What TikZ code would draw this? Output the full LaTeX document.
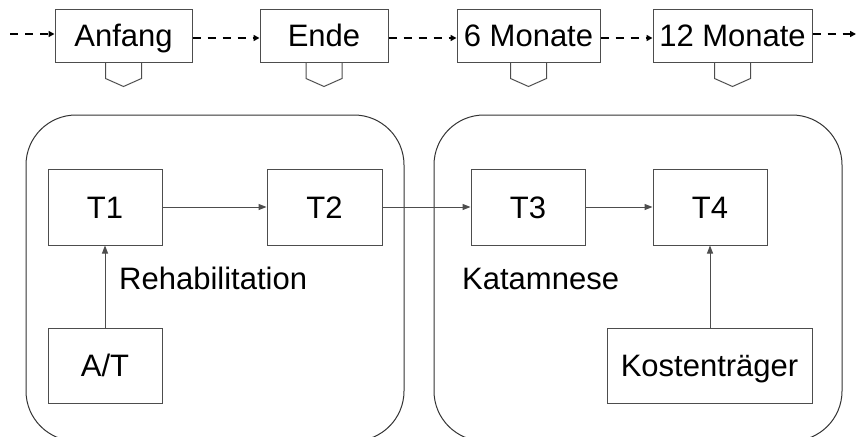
\documentclass[tikz,border=0pt]{standalone}
\usepackage{fontspec}
\setmainfont{Liberation Sans}
\usetikzlibrary{arrows.meta}
\definecolor{linegray}{HTML}{4D4D4D}
\definecolor{framegray}{HTML}{333333}

\tikzset{
    box/.style={draw=linegray, line width=1pt, minimum width=114pt, minimum height=76pt,
        inner sep=0pt, text height=22pt, text depth=0pt},
    flag/.style={box, minimum height=52pt},
    flow/.style={draw=linegray, line width=1pt, -{Triangle[length=8pt,width=6pt]}},
    timeline/.style={draw=black, line width=2.4pt, dash pattern=on 8pt off 7pt,
        -{Triangle[length=6pt,width=6pt]}},
    phase/.style={draw=framegray, line width=1pt, rounded corners=50pt}
}

\begin{document}
\begin{tikzpicture}[x=1pt, y=-1pt, font=\fontsize{31pt}{35pt}\selectfont]
    \useasboundingbox (0,0) rectangle (858,436);
    \clip (0,0) rectangle (858,436);

    % Phases in the background
    \draw[phase] (26,115) rectangle (404,441);
    \draw[phase] (434,115) rectangle (842,441);

    % Time line
    \node[flag, minimum width=137pt] (anfang) at (123.5,36) {Anfang};
    \node[flag, minimum width=128pt] (ende) at (324,36) {Ende};
    \node[flag, minimum width=143pt] (sechs) at (528.5,36) {6 Monate};
    \node[flag, minimum width=159pt] (zwoelf) at (732.5,36) {12 Monate};

    % Tabs below the time points
    \foreach \n in {anfang,ende,sechs,zwoelf} {
        \draw[linegray, line width=1pt] (\n.south) ++(-18,0) -- ++(0,16) -- ++(18,8) -- ++(18,-8) -- ++(0,-16);
    }

    \coordinate (tstart) at (10,34);
    \coordinate (tend) at (856,34);
    \draw[timeline] (tstart) -- (tstart -| anfang.west);
    \draw[timeline] ([yshift=-2pt]anfang.east) -- ([yshift=-2pt]ende.west);
    \draw[timeline] ([yshift=-2pt]ende.east) -- ([yshift=-2pt]sechs.west);
    \draw[timeline] ([yshift=-2pt]sechs.east) -- ([yshift=-2pt]zwoelf.west);
    \draw[timeline] (tend -| zwoelf.east) -- (tend);

    % Measurement points
    \node[box] (t1) at (105,207) {T1};
    \node[box, minimum width=115pt] (t2) at (324.5,207) {T2};
    \node[box] (t3) at (528,207) {T3};
    \node[box] (t4) at (710,207) {T4};
    \node[box, minimum height=75pt] (at) at (105,365.5) {A/T};
    \node[box, minimum width=205pt, minimum height=75pt] (kosten) at (709.5,365.5) {Kostenträger};

    % Phase labels
    \node[anchor=base west, inner sep=0pt] (reha) at (119,289) {Rehabilitation};
    \node[anchor=base west, inner sep=0pt] (kat) at (462,289) {Katamnese};

    % Connections
    \draw[flow] (t1) -- (t2);
    \draw[flow] (t2) -- (t3);
    \draw[flow] (t3) -- (t4);
    \draw[flow] (at) -- (t1);
    \draw[flow] (kosten.north -| t4) -- (t4);
\end{tikzpicture}
\end{document}
